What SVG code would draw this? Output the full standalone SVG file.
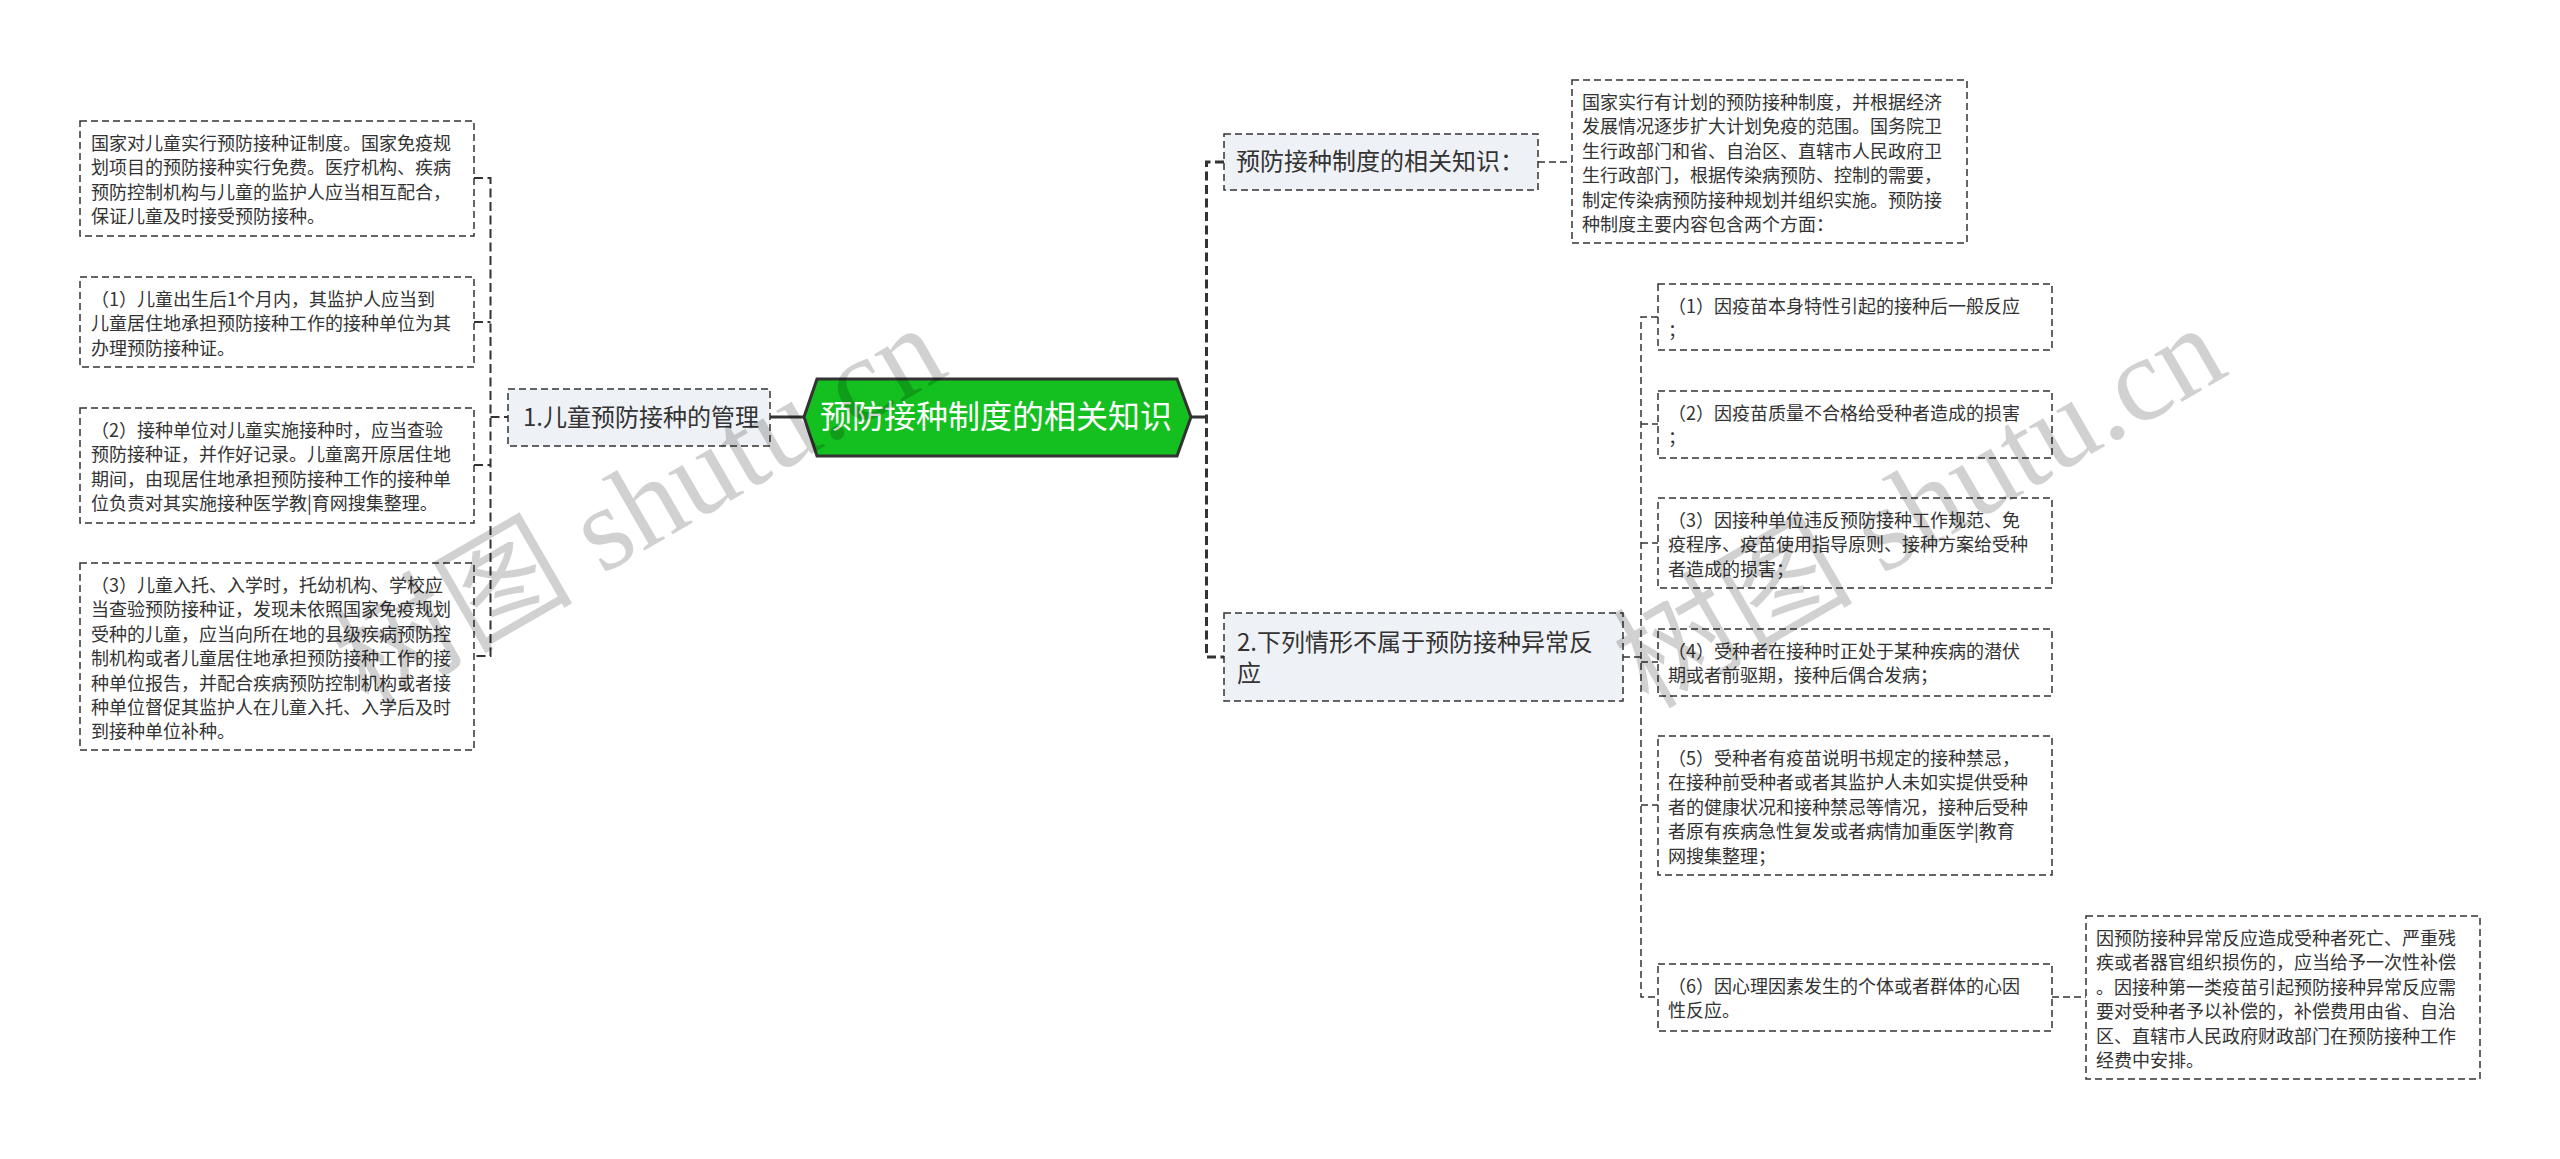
<svg xmlns="http://www.w3.org/2000/svg" width="2560" height="1159" viewBox="0 0 2560 1159">
<style>
text{font-family:"Noto Sans CJK SC","Noto Sans",sans-serif;fill:#333}
.leaf rect{fill:#fff;stroke:#333;stroke-width:1.5;stroke-dasharray:7 4}
.branch rect{fill:#eef1f5;stroke:#333;stroke-width:1.5;stroke-dasharray:7 4}
.leaf text{font-size:18px}
.branch text{font-size:24px}
.c{fill:none;stroke:#333;stroke-width:1.5;stroke-dasharray:7 4}
.c2{fill:none;stroke:#333;stroke-width:2;stroke-dasharray:9 4.5}
.c3{fill:none;stroke:#333;stroke-width:3;stroke-dasharray:9 4.5}
.s{fill:none;stroke:#333;stroke-width:3}
.wm{font-family:"Liberation Serif","Noto Sans CJK SC",serif;font-size:120px;fill:#000;fill-opacity:.18}
</style>
<g id="connectors">
<path class="s" d="M770 417H804M1191 417H1206"/>
<path class="c2" d="M474 178H490.5V656H474M474 322H490.5M474 465H490.5M490.5 417H508"/>
<path class="c3" d="M1224 162H1206.5V657H1224"/>
<path class="c" d="M1538 162H1572"/>
<path class="c" d="M1623 657H1641M1658 317H1641V997H1658M1641 424H1658M1641 543H1658M1641 662H1658M1641 805H1658"/>
<path class="c" d="M2052 997H2086"/>
</g>
<g id="root">
<polygon points="804,417 817,379 1177,379 1191,417 1177,456 817,456" fill="#13c01f" stroke="#333" stroke-width="3"/>
<text x="820" y="428" font-size="32" style="fill:#fff">预防接种制度的相关知识</text>
</g>
<g id="n1" class="branch"><rect x="508" y="389" width="262" height="57"/><text x="523" y="426">1.儿童预防接种的管理</text></g>
<g id="n2" class="branch"><rect x="1224" y="134" width="314" height="56"/><text x="1236" y="170">预防接种制度的相关知识：</text></g>
<g id="n3" class="branch"><rect x="1224" y="613" width="399" height="88"/><text x="1237" y="651">2.下列情形不属于预防接种异常反</text><text x="1237" y="682">应</text></g>
<g id="l1" class="leaf"><rect x="80" y="121" width="394" height="115"/>
<text x="91" y="150">国家对儿童实行预防接种证制度。国家免疫规</text><text x="91" y="174.4">划项目的预防接种实行免费。医疗机构、疾病</text><text x="91" y="198.8">预防控制机构与儿童的监护人应当相互配合，</text><text x="91" y="223.2">保证儿童及时接受预防接种。</text></g>
<g id="l2" class="leaf"><rect x="80" y="277" width="394" height="90"/>
<text x="91" y="306">（1）儿童出生后1个月内，其监护人应当到</text><text x="91" y="330.4">儿童居住地承担预防接种工作的接种单位为其</text><text x="91" y="354.8">办理预防接种证。</text></g>
<g id="l3" class="leaf"><rect x="80" y="408" width="394" height="115"/>
<text x="91" y="437">（2）接种单位对儿童实施接种时，应当查验</text><text x="91" y="461.4">预防接种证，并作好记录。儿童离开原居住地</text><text x="91" y="485.8">期间，由现居住地承担预防接种工作的接种单</text><text x="91" y="510.2">位负责对其实施接种医学教|育网搜集整理。</text></g>
<g id="l4" class="leaf"><rect x="80" y="563" width="394" height="187"/>
<text x="91" y="592">（3）儿童入托、入学时，托幼机构、学校应</text><text x="91" y="616.4">当查验预防接种证，发现未依照国家免疫规划</text><text x="91" y="640.8">受种的儿童，应当向所在地的县级疾病预防控</text><text x="91" y="665.2">制机构或者儿童居住地承担预防接种工作的接</text><text x="91" y="689.6">种单位报告，并配合疾病预防控制机构或者接</text><text x="91" y="714">种单位督促其监护人在儿童入托、入学后及时</text><text x="91" y="738.4">到接种单位补种。</text></g>
<g id="r0" class="leaf"><rect x="1572" y="80" width="395" height="163"/>
<text x="1582" y="109">国家实行有计划的预防接种制度，并根据经济</text><text x="1582" y="133.4">发展情况逐步扩大计划免疫的范围。国务院卫</text><text x="1582" y="157.8">生行政部门和省、自治区、直辖市人民政府卫</text><text x="1582" y="182.2">生行政部门，根据传染病预防、控制的需要，</text><text x="1582" y="206.6">制定传染病预防接种规划并组织实施。预防接</text><text x="1582" y="231">种制度主要内容包含两个方面：</text></g>
<g id="r1" class="leaf"><rect x="1658" y="284" width="394" height="66"/>
<text x="1668" y="313">（1）因疫苗本身特性引起的接种后一般反应</text><text x="1668" y="337.4">；</text></g>
<g id="r2" class="leaf"><rect x="1658" y="391" width="394" height="67"/>
<text x="1668" y="420">（2）因疫苗质量不合格给受种者造成的损害</text><text x="1668" y="444.4">；</text></g>
<g id="r3" class="leaf"><rect x="1658" y="498" width="394" height="90"/>
<text x="1668" y="527">（3）因接种单位违反预防接种工作规范、免</text><text x="1668" y="551.4">疫程序、疫苗使用指导原则、接种方案给受种</text><text x="1668" y="575.8">者造成的损害；</text></g>
<g id="r4" class="leaf"><rect x="1658" y="629" width="394" height="67"/>
<text x="1668" y="658">（4）受种者在接种时正处于某种疾病的潜伏</text><text x="1668" y="682.4">期或者前驱期，接种后偶合发病；</text></g>
<g id="r5" class="leaf"><rect x="1658" y="736" width="394" height="139"/>
<text x="1668" y="765">（5）受种者有疫苗说明书规定的接种禁忌，</text><text x="1668" y="789.4">在接种前受种者或者其监护人未如实提供受种</text><text x="1668" y="813.8">者的健康状况和接种禁忌等情况，接种后受种</text><text x="1668" y="838.2">者原有疾病急性复发或者病情加重医学|教育</text><text x="1668" y="862.6">网搜集整理；</text></g>
<g id="r6" class="leaf"><rect x="1658" y="964" width="394" height="67"/>
<text x="1668" y="993">（6）因心理因素发生的个体或者群体的心因</text><text x="1668" y="1017.4">性反应。</text></g>
<g id="r7" class="leaf"><rect x="2086" y="916" width="394" height="163"/>
<text x="2096" y="945">因预防接种异常反应造成受种者死亡、严重残</text><text x="2096" y="969.4">疾或者器官组织损伤的，应当给予一次性补偿</text><text x="2096" y="993.8">。因接种第一类疫苗引起预防接种异常反应需</text><text x="2096" y="1018.2">要对受种者予以补偿的，补偿费用由省、自治</text><text x="2096" y="1042.6">区、直辖市人民政府财政部门在预防接种工作</text><text x="2096" y="1067">经费中安排。</text></g>
<g id="watermarks">
<text class="wm" transform="translate(368 710) rotate(-30)">树图 shutu.cn</text>
<text class="wm" transform="translate(1648 710) rotate(-30)">树图 shutu.cn</text>
</g>
</svg>
